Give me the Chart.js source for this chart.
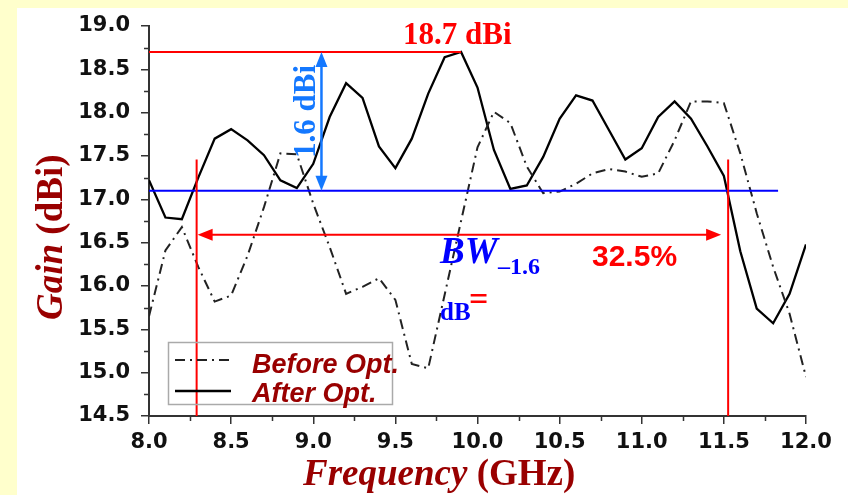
<!DOCTYPE html>
<html lang="en">
<head>
    <meta charset="UTF-8">
    <title>Gain vs Frequency</title>
    <script src="https://cdn.jsdelivr.net/npm/chart.js"></script>
    <style>
        body { margin: 0; background: #ffffcc; }
        canvas { display: block; }
    </style>
</head>
<body>
    <canvas id="gainChart" width="848" height="495"></canvas>

    <script>
        // frequency points (GHz)
        const freqs = [8.0, 8.1, 8.2, 8.3, 8.4, 8.5, 8.6, 8.7, 8.8, 8.9,
                       9.0, 9.1, 9.2, 9.3, 9.4, 9.5, 9.6, 9.7, 9.8, 9.9,
                       10.0, 10.1, 10.2, 10.3, 10.4, 10.5, 10.6, 10.7, 10.8, 10.9,
                       11.0, 11.1, 11.2, 11.3, 11.4, 11.5, 11.6, 11.7, 11.8, 11.9, 12.0];

        // gain before optimisation (dBi)
        const beforeOpt = [15.65, 16.41, 16.68, 16.22, 15.82, 15.89, 16.35, 16.91, 17.53, 17.52,
                           16.95, 16.45, 15.91, 15.99, 16.09, 15.84, 15.10, 15.05, 15.90, 16.75,
                           17.60, 18.01, 17.88, 17.38, 17.07, 17.09, 17.18, 17.30, 17.35, 17.32,
                           17.26, 17.30, 17.68, 18.13, 18.13, 18.11, 17.53, 16.84, 16.22, 15.68, 14.95];

        // gain after optimisation (dBi)
        const afterOpt = [17.22, 16.79, 16.77, 17.25, 17.70, 17.81, 17.68, 17.51, 17.22, 17.13,
                          17.41, 17.95, 18.34, 18.17, 17.61, 17.36, 17.70, 18.22, 18.64, 18.70,
                          18.29, 17.57, 17.12, 17.16, 17.49, 17.93, 18.20, 18.14, 17.80, 17.46,
                          17.59, 17.95, 18.13, 17.93, 17.61, 17.27, 16.40, 15.74, 15.57, 15.91, 16.48];

        const seriesNames = ['Before Opt.', 'After Opt.'];

        // annotation values
        const peakGain = 18.7;         // dBi
        const levelGain = 17.1;        // peak - 1.6 dB
        const peakLineEnd = 9.9;       // GHz
        const levelLineEnd = 11.83;    // GHz
        const bandLow = 8.29;          // GHz
        const bandHigh = 11.526;       // GHz
        const bandLineTop = 17.46;     // dBi
        const bwArrowGain = 16.59;     // dBi
        const dropArrowFreq = 9.05;    // GHz

        const darkRed = '#990000';
        const serif = '"Liberation Serif", "Times New Roman", serif';
        const sans = '"Liberation Sans", Arial, sans-serif';

        // yellow frame + white panel
        const backdrop = {
            id: 'backdrop',
            beforeDraw(chart) {
                const ctx = chart.ctx;
                ctx.save();
                ctx.fillStyle = '#ffffcc';
                ctx.fillRect(0, 0, chart.width, chart.height);
                ctx.fillStyle = '#ffffff';
                ctx.fillRect(17, 8, chart.width - 17, chart.height - 8);
                ctx.restore();
            }
        };

        // minor ticks between the labelled ones
        const minorTicks = {
            id: 'minorTicks',
            afterDraw(chart) {
                const { ctx, scales: { x, y }, chartArea } = chart;
                ctx.save();
                ctx.strokeStyle = '#333';
                ctx.lineWidth = 1.5;
                ctx.beginPath();
                for (let v = 14.75; v < 19; v += 0.5) {
                    const py = Math.round(y.getPixelForValue(v)) + 0.5;
                    ctx.moveTo(chartArea.left - 5, py);
                    ctx.lineTo(chartArea.left, py);
                }
                for (let v = 8.25; v < 12; v += 0.5) {
                    const px = Math.round(x.getPixelForValue(v)) + 0.5;
                    ctx.moveTo(px, chartArea.bottom);
                    ctx.lineTo(px, chartArea.bottom + 5);
                }
                ctx.stroke();
                ctx.restore();
            }
        };

        function drawRuns(ctx, x, y, runs) {
            runs.forEach(r => {
                ctx.font = r.font;
                ctx.fillStyle = r.color;
                ctx.fillText(r.text, x, y);
                x += ctx.measureText(r.text).width;
            });
        }

        function arrowHead(ctx, tipX, tipY, dir, len, half) {
            // dir: 'up' | 'down' | 'left' | 'right'
            ctx.beginPath();
            ctx.moveTo(tipX, tipY);
            if (dir === 'up') { ctx.lineTo(tipX - half, tipY + len); ctx.lineTo(tipX + half, tipY + len); }
            if (dir === 'down') { ctx.lineTo(tipX - half, tipY - len); ctx.lineTo(tipX + half, tipY - len); }
            if (dir === 'left') { ctx.lineTo(tipX + len, tipY - half); ctx.lineTo(tipX + len, tipY + half); }
            if (dir === 'right') { ctx.lineTo(tipX - len, tipY - half); ctx.lineTo(tipX - len, tipY + half); }
            ctx.closePath();
            ctx.fill();
        }

        const annotations = {
            id: 'annotations',
            afterDatasetsDraw(chart) {
                const { ctx, scales: { x, y }, chartArea } = chart;
                const left = chartArea.left;
                ctx.save();

                // peak line
                ctx.strokeStyle = '#ff0000';
                ctx.lineWidth = 2;
                ctx.beginPath();
                ctx.moveTo(left, y.getPixelForValue(peakGain));
                ctx.lineTo(x.getPixelForValue(peakLineEnd), y.getPixelForValue(peakGain));
                ctx.stroke();

                // -1.6 dB level line
                ctx.strokeStyle = '#0000ff';
                ctx.beginPath();
                ctx.moveTo(left, y.getPixelForValue(levelGain));
                ctx.lineTo(x.getPixelForValue(levelLineEnd), y.getPixelForValue(levelGain));
                ctx.stroke();

                // band edges
                ctx.strokeStyle = '#ff0000';
                [bandLow, bandHigh].forEach(f => {
                    const px = x.getPixelForValue(f);
                    ctx.beginPath();
                    ctx.moveTo(px, y.getPixelForValue(bandLineTop));
                    ctx.lineTo(px, chartArea.bottom);
                    ctx.stroke();
                });

                // bandwidth arrow
                const ay = y.getPixelForValue(bwArrowGain);
                const ax1 = x.getPixelForValue(bandLow) + 1;
                const ax2 = x.getPixelForValue(bandHigh) - 7;
                ctx.beginPath();
                ctx.moveTo(ax1 + 10, ay);
                ctx.lineTo(ax2 - 10, ay);
                ctx.stroke();
                ctx.fillStyle = '#ff0000';
                arrowHead(ctx, ax1, ay, 'left', 15, 6);
                arrowHead(ctx, ax2, ay, 'right', 15, 6);

                // 1.6 dB drop arrow
                const dx = x.getPixelForValue(dropArrowFreq);
                const dTop = y.getPixelForValue(peakGain);
                const dBot = y.getPixelForValue(levelGain);
                ctx.strokeStyle = '#1478ff';
                ctx.fillStyle = '#1478ff';
                ctx.lineWidth = 2.5;
                ctx.beginPath();
                ctx.moveTo(dx, dTop + 10);
                ctx.lineTo(dx, dBot - 10);
                ctx.stroke();
                arrowHead(ctx, dx, dTop, 'up', 15, 6);
                arrowHead(ctx, dx, dBot, 'down', 15, 6);

                ctx.save();
                ctx.translate(315, 158);
                ctx.rotate(-Math.PI / 2);
                ctx.textBaseline = 'alphabetic';
                drawRuns(ctx, 0, 0, [{ text: '1.6 dBi', font: 'bold 31px ' + serif, color: '#1478ff' }]);
                ctx.restore();

                // labels
                ctx.textBaseline = 'alphabetic';
                drawRuns(ctx, 403, 44, [{ text: '18.7 dBi', font: 'bold 31px ' + serif, color: '#ff0000' }]);
                drawRuns(ctx, 440, 263, [{ text: 'BW', font: 'italic bold 37px ' + serif, color: '#0000ff' }]);
                drawRuns(ctx, 498, 274, [{ text: '\u20131.6', font: 'bold 24px ' + serif, color: '#0000ff' }]);
                drawRuns(ctx, 440, 320, [{ text: 'dB', font: 'bold 25px ' + serif, color: '#0000ff' }]);
                drawRuns(ctx, 469, 310, [{ text: '=', font: 'bold 34px ' + serif, color: '#ff0000' }]);
                drawRuns(ctx, 592, 266, [{ text: '32.5%', font: 'bold 30px ' + sans, color: '#ff0000' }]);

                // legend
                const ds = chart.data.datasets;
                ctx.strokeStyle = '#aaaaaa';
                ctx.lineWidth = 1.5;
                ctx.strokeRect(168.5, 342.5, 224, 62);
                const rows = [360, 391];
                ds.forEach((d, i) => {
                    ctx.strokeStyle = d.borderColor;
                    ctx.lineWidth = d.borderWidth;
                    ctx.setLineDash(d.borderDash || []);
                    ctx.beginPath();
                    ctx.moveTo(175, rows[i]);
                    ctx.lineTo(231, rows[i]);
                    ctx.stroke();
                    ctx.setLineDash([]);
                    drawRuns(ctx, 252, rows[i] + 13 - i * 2, [{ text: d.label, font: 'italic bold 27px ' + sans, color: darkRed }]);
                });

                ctx.restore();
            }
        };

        // axis titles with mixed italic / upright runs
        const axisTitles = {
            id: 'axisTitles',
            afterDraw(chart) {
                const ctx = chart.ctx;
                ctx.save();
                ctx.textBaseline = 'alphabetic';
                drawRuns(ctx, 303, 485, [
                    { text: 'Frequency', font: 'italic bold 37px ' + serif, color: darkRed },
                    { text: ' (GHz)', font: 'bold 37px ' + serif, color: darkRed }
                ]);
                ctx.translate(62, 320);
                ctx.rotate(-Math.PI / 2);
                drawRuns(ctx, 0, 0, [
                    { text: 'Gain', font: 'italic bold 37px ' + serif, color: darkRed },
                    { text: ' (dBi)', font: 'bold 37px ' + serif, color: darkRed }
                ]);
                ctx.restore();
            }
        };

        const tickFont = { family: '"DejaVu Sans", sans-serif', size: 21, weight: 'bold' };

        new Chart(document.getElementById('gainChart'), {
            type: 'line',
            data: {
                datasets: [{
                    label: seriesNames[0],
                    data: freqs.map((f, i) => ({ x: f, y: beforeOpt[i] })),
                    borderColor: '#222222',
                    borderWidth: 2,
                    borderDash: [10, 5, 2, 5],
                    pointRadius: 0,
                    tension: 0,
                    fill: false
                }, {
                    label: seriesNames[1],
                    data: freqs.map((f, i) => ({ x: f, y: afterOpt[i] })),
                    borderColor: '#000000',
                    borderWidth: 2.3,
                    pointRadius: 0,
                    tension: 0,
                    fill: false
                }]
            },
            options: {
                responsive: false,
                animation: false,
                layout: { padding: { left: 0, right: 42, top: 26, bottom: 0 } },
                plugins: { legend: { display: false }, tooltip: { enabled: false } },
                scales: {
                    x: {
                        type: 'linear',
                        min: 8, max: 12,
                        afterFit(scale) { scale.height = 79; },
                        border: { color: '#333', width: 2 },
                        grid: { drawOnChartArea: false, color: '#333', tickLength: 8, lineWidth: 1.5 },
                        ticks: {
                            stepSize: 0.5, autoSkip: false, maxRotation: 0, padding: 6,
                            color: '#111', font: tickFont,
                            callback: v => v.toFixed(1)
                        }
                    },
                    y: {
                        min: 14.5, max: 19,
                        afterFit(scale) { scale.width = 149; },
                        border: { color: '#333', width: 2 },
                        grid: { drawOnChartArea: false, color: '#333', tickLength: 8, lineWidth: 1.5 },
                        ticks: {
                            stepSize: 0.5, padding: 11,
                            color: '#111', font: tickFont,
                            callback: v => v.toFixed(1)
                        }
                    }
                }
            },
            plugins: [backdrop, minorTicks, annotations, axisTitles]
        });
    </script>
</body>
</html>
